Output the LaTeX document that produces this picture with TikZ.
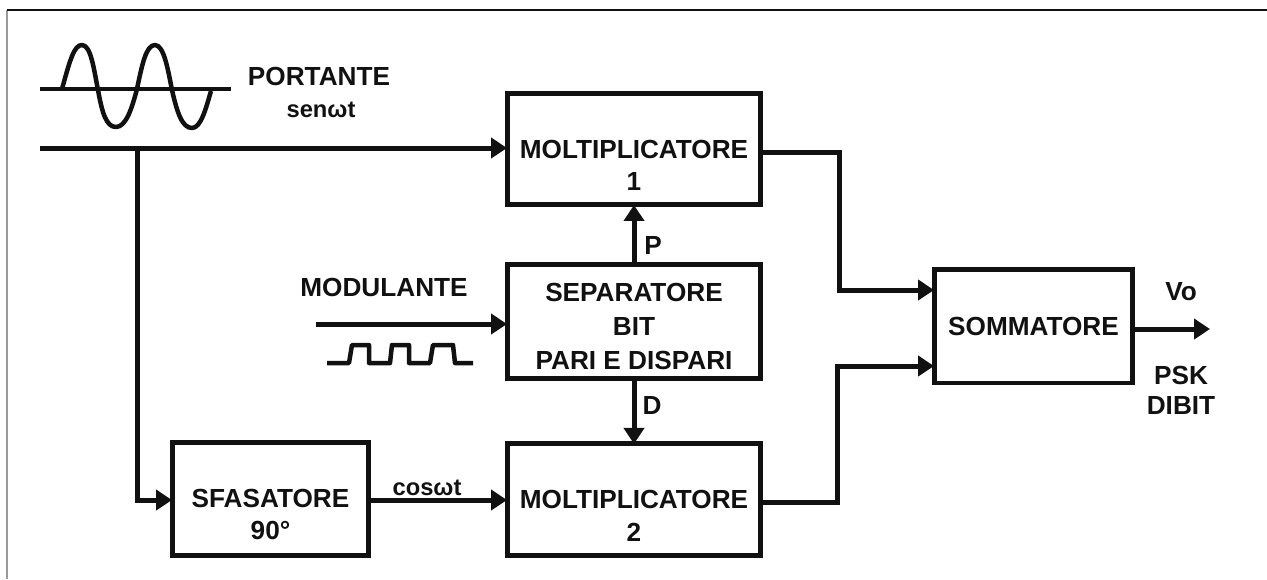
\documentclass[tikz,border=0pt]{standalone}
\usepackage{fontspec}
\setmainfont{Liberation Sans}
\usetikzlibrary{arrows.meta,positioning}
\definecolor{Ink}{HTML}{111111}
\definecolor{Frame}{HTML}{9A9A9A}
\newcommand{\blankline}{\vphantom{M}}
\tikzset{
  block/.style={draw=Ink,line width=1.0mm,fill=white,minimum width=50.8mm,minimum height=22.4mm,align=center,font=\bfseries\fontsize{14.9}{18.3}\selectfont,text=Ink,outer sep=0pt,inner sep=0pt},
  splitblock/.style={block,minimum height=22.8mm,font=\bfseries\fontsize{14.9}{19.3}\selectfont},
  sumblock/.style={block,minimum width=39.8mm,minimum height=22.8mm},
  shiftblock/.style={block,minimum width=39.4mm,minimum height=22.6mm},
  label/.style={align=center,font=\bfseries\fontsize{14.9}{17}\selectfont,text=Ink,inner sep=0pt},
  smalllabel/.style={label,font=\bfseries\fontsize{13.5}{14}\selectfont},
  line/.style={-{Triangle[length=3.2mm,width=4mm]},line width=1.0mm,color=Ink},
  wire/.style={line width=0.85mm,color=Ink},
  wave/.style={line width=0.9mm,color=Ink,line join=round}
}
\begin{document}
\begin{tikzpicture}[x=0.02cm,y=-0.02cm]
  \useasboundingbox (0,0) rectangle (1267,579);
  % frame of the scan
  \draw[line width=0.5mm,color=Frame] (7,579) -- (7,10);
  \draw[line width=0.4mm,color=Ink] (7,10) -- (1267,10);
  % blocks
  \node[block] (mult1) at (634,149) {\blankline\\MOLTIPLICATORE\\1};
  \node[splitblock,below=12mm of mult1] (split) {\rule{0pt}{15.2pt}SEPARATORE\\BIT\\PARI E DISPARI};
  \node[block,below=13mm of split] (mult2) {\blankline\\MOLTIPLICATORE\\2};
  \node[sumblock] (sum) at (1033.5,326) {SOMMATORE};
  \node[shiftblock] (shift) at (270.5,498.5) {\blankline\\SFASATORE\\90°};
  % free ends
  \coordinate (carrier) at (40,148);
  \coordinate (branch) at (137,148);
  \coordinate (input) at (316,324);
  \coordinate (output) at (1210,329);
  \coordinate (bus1) at (839,152);
  \coordinate (bus2) at (837,502);
  % labels
  \node[label] (portante) at (319,76) {PORTANTE};
  \node[smalllabel] (sen) at (321,110) {senωt};
  \node[label] (modulante) at (384,287) {MODULANTE};
  \node[label] (vo) at (1181,292) {Vo};
  \node[label] (psk) at (1181,390) {PSK\\DIBIT};
  \node[label] (plabel) at (653,245) {P};
  \node[label] (dlabel) at (652,405) {D};
  \node[smalllabel] (cos) at (427,488) {cosωt};
  % connectors
  \draw[line] (carrier) -- (carrier -| mult1.west);
  \draw[line] (branch) |- (shift.west |- 0,500);
  \draw[line] (shift.east |- 0,500) -- (mult2.west |- 0,500);
  \draw[line] (input) -- (split.west |- input);
  \draw[line] (split) -- (mult1);
  \draw[line] (split) -- (mult2);
  \draw[line] (mult1.east |- bus1) -- (bus1) |- (sum.west |- 0,290);
  \draw[line] (mult2.east |- bus2) -- (bus2) |- (sum.west |- 0,366);
  \draw[line] (sum.east |- output) -- (output);
  % carrier sketch
  \draw[wire] (40,89) -- (231,89);
  \draw[wave] (62,89) .. controls (70,60) and (74,45) .. (82,45) .. controls (91,45) and (94,70) .. (98,90) .. controls (102,112) and (106,127) .. (116,127) .. controls (126,127) and (132,108) .. (137,89) .. controls (142,65) and (146,45) .. (155,45) .. controls (164,45) and (168,70) .. (172,90) .. controls (177,112) and (182,128) .. (192,128) .. controls (201,128) and (206,108) .. (211,91);
  % modulating sketch
  \draw[wave] (327,363) -- (349,363) -- (352,345) -- (369,345) -- (369,363) -- (390,363) -- (392,345) -- (409,345) -- (409,363) -- (430,363) -- (433,345) -- (453,345) -- (455,363) -- (473,363);
\end{tikzpicture}
\end{document}
